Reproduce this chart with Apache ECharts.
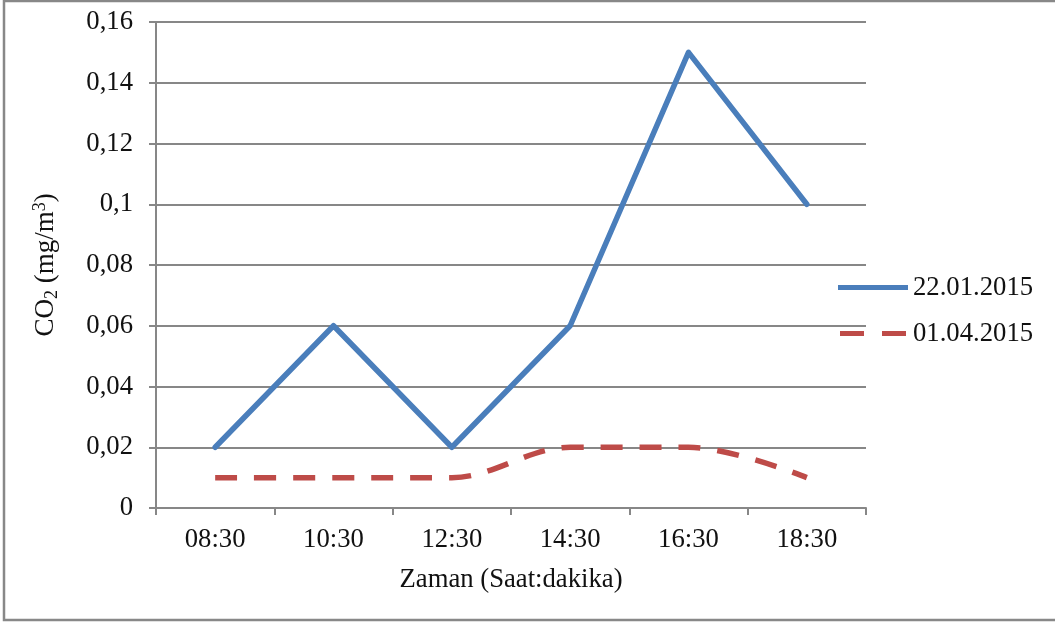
<!DOCTYPE html>
<html>
<head>
<meta charset="utf-8">
<script src="https://cdn.jsdelivr.net/npm/echarts@6/dist/echarts.min.js"></script>
<style>
  html, body { margin: 0; padding: 0; background: #fff; }
  #chart { width: 1055px; height: 623px; }
</style>
</head>
<body>
<div id="chart"></div>
<script>
// Measurement times (hour:minute)
const times = ['08:30', '10:30', '12:30', '14:30', '16:30', '18:30'];
// CO2 concentration (mg/m3) per measurement day
const seriesNames = ['22.01.2015', '01.04.2015'];
const co2Jan = [0.02, 0.06, 0.02, 0.06, 0.15, 0.10];
const co2Apr = [0.01, 0.01, 0.01, 0.02, 0.02, 0.01];
// Value axis tick labels (decimal comma)
const yTickLabels = ['0', '0,02', '0,04', '0,06', '0,08', '0,1', '0,12', '0,14', '0,16'];
const yStep = 0.02;

const FONT = '"Liberation Serif", "Times New Roman", serif';
const FS = 26.7;
const GRAY = '#878787';
const TXT = '#111';
const BLUE = '#4a7ebb';
const RED = '#be4b48';

// Legend keys: a solid bar and a two-dash bar
const solidKey = 'path://M0,0h70v5h-70z';
const dashedKey = 'path://M0,0h24v5h-24z M42,0h24v5h-24z';

const chart = echarts.init(document.getElementById('chart'), null, { renderer: 'canvas' });

chart.setOption({
  backgroundColor: '#fff',
  animation: false,
  textStyle: { fontFamily: FONT },
  graphic: [{
    type: 'rect',
    shape: { x: 4, y: 1, width: 1100, height: 619 },
    style: { fill: 'none', stroke: '#888', lineWidth: 2.5 },
    silent: true
  }],
  grid: {
    left: 156, top: 22, width: 710, height: 486,
    outerBoundsMode: 'none', containLabel: false
  },
  legend: {
    orient: 'vertical',
    left: 838, top: 274,
    padding: 0,
    itemWidth: 70, itemHeight: 5, itemGap: 19,
    textStyle: { fontFamily: FONT, fontSize: FS, color: TXT },
    data: [
      { name: seriesNames[0], icon: solidKey, itemStyle: { color: BLUE } },
      { name: seriesNames[1], icon: dashedKey, itemStyle: { color: RED } }
    ]
  },
  xAxis: {
    type: 'category',
    data: times,
    boundaryGap: true,
    name: 'Zaman (Saat:dakika)',
    nameLocation: 'middle',
    nameGap: 58,
    nameTextStyle: { fontFamily: FONT, fontSize: FS, color: TXT },
    axisLine: { lineStyle: { color: GRAY, width: 2 } },
    axisTick: { show: true, length: 7, inside: false, alignWithLabel: false, lineStyle: { color: GRAY, width: 2 } },
    axisLabel: { fontFamily: FONT, fontSize: FS, color: TXT, margin: 18 },
    splitLine: { show: false }
  },
  yAxis: {
    type: 'value',
    min: 0, max: 0.16, interval: yStep,
    name: '{t|CO}{sub|2}{t| (mg/m}{sup|3}{t|)}',
    nameLocation: 'middle',
    nameRotate: 90,
    nameGap: 95,
    nameTextStyle: {
      rich: {
        t: { fontFamily: FONT, fontSize: 27, color: TXT },
        sub: { fontFamily: FONT, fontSize: 18, color: TXT, verticalAlign: 'bottom', padding: [12, 0, 0, 0] },
        sup: { fontFamily: FONT, fontSize: 18, color: TXT, verticalAlign: 'top', padding: [0, 0, 10, 0] }
      }
    },
    axisLine: { show: true, lineStyle: { color: GRAY, width: 2 } },
    axisTick: { show: true, length: 7, inside: false, lineStyle: { color: GRAY, width: 2 } },
    axisLabel: {
      fontFamily: FONT, fontSize: FS, color: TXT, margin: 23,
      formatter: (v) => yTickLabels[Math.round(v / yStep)]
    },
    splitLine: { show: true, lineStyle: { color: GRAY, width: 2 } }
  },
  series: [
    {
      name: seriesNames[0],
      type: 'line',
      data: co2Jan,
      symbol: 'none',
      lineStyle: { color: BLUE, width: 5.5, join: 'round', cap: 'round' },
      itemStyle: { color: BLUE },
      z: 3
    },
    {
      name: seriesNames[1],
      type: 'line',
      data: co2Apr,
      symbol: 'none',
      smooth: 0.35,
      lineStyle: { color: RED, width: 5.5, type: [22, 17] },
      itemStyle: { color: RED },
      z: 2
    }
  ]
});
</script>
</body>
</html>
